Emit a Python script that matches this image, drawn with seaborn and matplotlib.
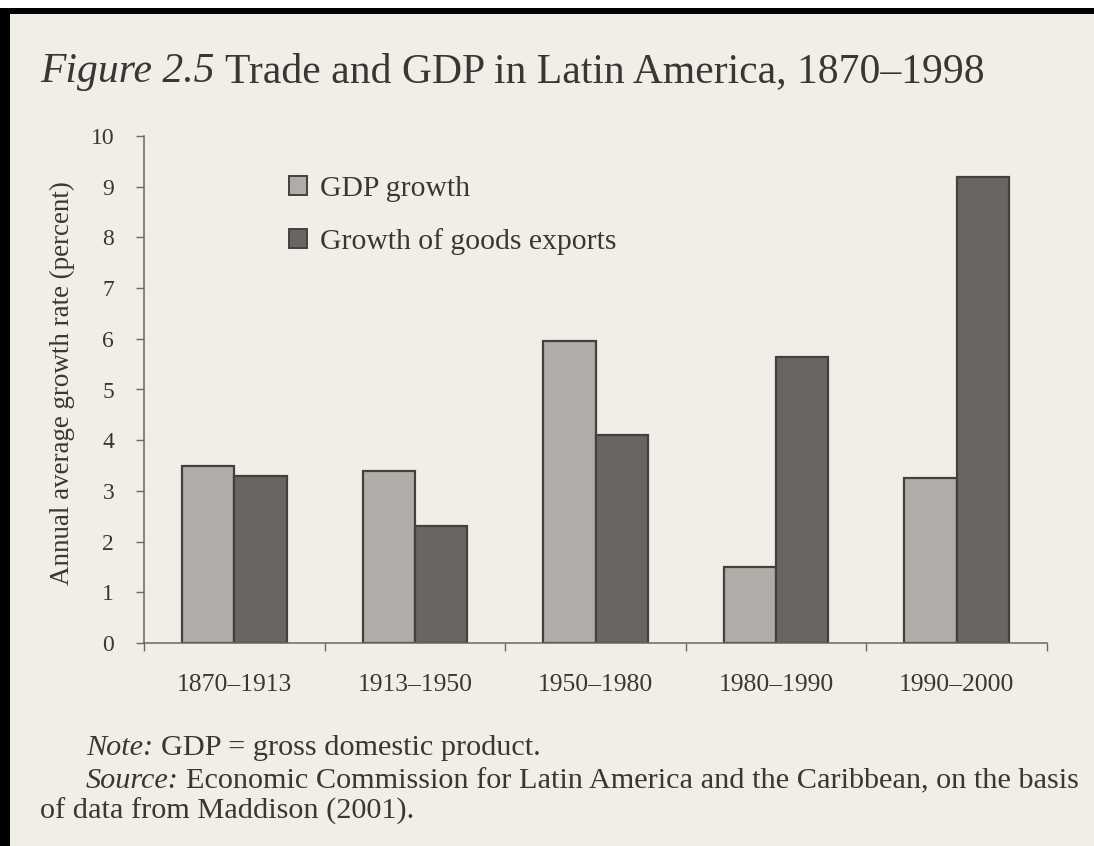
import numpy as np
import pandas as pd
import matplotlib
matplotlib.use("Agg")
import matplotlib.pyplot as plt
import seaborn as sns
from matplotlib.patches import Rectangle, Patch
from matplotlib.ticker import FixedLocator

# ---------------- data ----------------
periods = ["1870–1913", "1913–1950", "1950–1980", "1980–1990", "1990–2000"]
gdp_growth = [3.5, 3.4, 5.95, 1.5, 3.25]
export_growth = [3.3, 2.3, 4.1, 5.65, 9.2]
series_names = ["GDP growth", "Growth of goods exports"]
y_ticks = list(range(0, 11))

title_italic = "Figure 2.5"
title_rest = "Trade and GDP in Latin America, 1870–1998"
note_italic = "Note:"
note_rest = "GDP = gross domestic product."
source_italic = "Source:"
source_rest = "Economic Commission for Latin America and the Caribbean, on the basis"
source_line2 = "of data from Maddison (2001)."
ylabel = "Annual average growth rate (percent)"

# ---------------- style ----------------
W, H = 1094, 846
PAPER = "#f1eee7"
INK = "#393634"
LIGHT = "#b0aca7"
DARK = "#696562"
EDGE = "#44403d"
AXC = "#6a6662"
SERIF = "Liberation Serif"

sns.set_theme(style="white")
plt.rcParams["font.family"] = [SERIF, "DejaVu Serif"]
plt.rcParams["text.color"] = INK

df = pd.DataFrame({
    "period": periods * 2,
    "series": [series_names[0]] * len(periods) + [series_names[1]] * len(periods),
    "value": gdp_growth + export_growth,
})

fig = plt.figure(figsize=(W / 100, H / 100), dpi=100, facecolor=PAPER)
renderer = fig.canvas.get_renderer()


def px_to_fig(x, y):
    return x / W, 1 - y / H


def width_px(s, size, style="normal"):
    t = fig.text(0, 0, s, fontsize=size, fontstyle=style)
    w = t.get_window_extent(renderer).width
    t.remove()
    return w


def fit_size(s, target, style="normal"):
    return 20 * target / width_px(s, 20, style)


def space_px(size):
    return width_px("a a", size) - width_px("aa", size)


def mixed_line(x, y, ital, rest, size):
    fx, fy = px_to_fig(x, y)
    fig.text(fx, fy, ital, fontsize=size, fontstyle="italic", ha="left", va="baseline", color=INK)
    wi = width_px(ital, size, "italic")
    fig.text((x + wi + space_px(size)) / W, fy, rest, fontsize=size, ha="left", va="baseline", color=INK)


def mixed_fit(ital, rest, target):
    base = width_px(ital, 20, "italic") + width_px(rest, 20) + space_px(20)
    return 20 * target / base


# ---------------- axes ----------------
ax_l, ax_r, ax_t, ax_b = 144, 1047, 136, 643
ax = fig.add_axes([ax_l / W, 1 - ax_b / H, (ax_r - ax_l) / W, (ax_b - ax_t) / H])
ax.set_facecolor("none")

sns.barplot(data=df, x="period", y="value", hue="series",
            palette=[LIGHT, DARK], width=0.58, gap=0, saturation=1,
            edgecolor=EDGE, linewidth=1.6, errorbar=None, legend=False, ax=ax)

ax.set_xlim(-0.5, len(periods) - 0.5)
ax.set_ylim(0, 10)
ax.set_yticks(y_ticks)
ax.set_xlabel("")

for s in ["top", "right"]:
    ax.spines[s].set_visible(False)
for s in ["left", "bottom"]:
    ax.spines[s].set_color(AXC)
    ax.spines[s].set_linewidth(1.1)

tick_size = 17
xlab_size = fit_size("1870–1913", 115)
ax.tick_params(axis="y", direction="out", length=5.5, width=1, color=AXC,
               labelsize=tick_size, labelcolor=INK, pad=16, left=True)
ax.tick_params(axis="x", which="major", length=0, labelsize=xlab_size,
               labelcolor=INK, pad=22)
ax.xaxis.set_minor_locator(FixedLocator(np.arange(-0.5, len(periods), 1.0)))
ax.tick_params(axis="x", which="minor", direction="out", length=5.5, width=1,
               color=AXC, bottom=True)

ylab_size = fit_size(ylabel, 405)
ax.set_ylabel(ylabel, fontsize=ylab_size, color=INK)
ax.yaxis.set_label_coords((62 - ax_l) / (ax_r - ax_l), (ax_b - 383) / (ax_b - ax_t))
ax.yaxis.label.set_va("center")

leg_size = fit_size(series_names[1], 294)
handles = [Patch(facecolor=LIGHT, edgecolor=EDGE, linewidth=1.4),
           Patch(facecolor=DARK, edgecolor=EDGE, linewidth=1.4)]
ax.legend(handles=handles, labels=series_names, loc="upper left",
          bbox_to_anchor=px_to_fig(289, 176), bbox_transform=fig.transFigure,
          frameon=False, fontsize=leg_size, handlelength=0.62, handleheight=0.62,
          handletextpad=0.42, labelspacing=0.88, borderpad=0, borderaxespad=0,
          labelcolor=INK)

# ---------------- page texts ----------------
ts = mixed_fit(title_italic, title_rest, 985 - 40)
mixed_line(40, 82, title_italic, title_rest, ts)

ss = mixed_fit(source_italic, source_rest, 1082 - 86)
mixed_line(86, 755, note_italic, note_rest, ss)
mixed_line(86, 788, source_italic, source_rest, ss)
fig.text(*px_to_fig(40, 819), source_line2, fontsize=ss, ha="left", va="baseline", color=INK)

# ---------------- scan border ----------------
fig.patches.append(Rectangle((0, 1 - 8 / H), 1, 8 / H, transform=fig.transFigure,
                             facecolor="white", edgecolor="none", zorder=10))
fig.patches.append(Rectangle((0, 1 - 14 / H), 1, 6 / H, transform=fig.transFigure,
                             facecolor="black", edgecolor="none", zorder=11))
fig.patches.append(Rectangle((0, 0), 10 / W, 1 - 8 / H, transform=fig.transFigure,
                             facecolor="black", edgecolor="none", zorder=11))

fig.savefig("out.png", dpi=100, facecolor=PAPER)
